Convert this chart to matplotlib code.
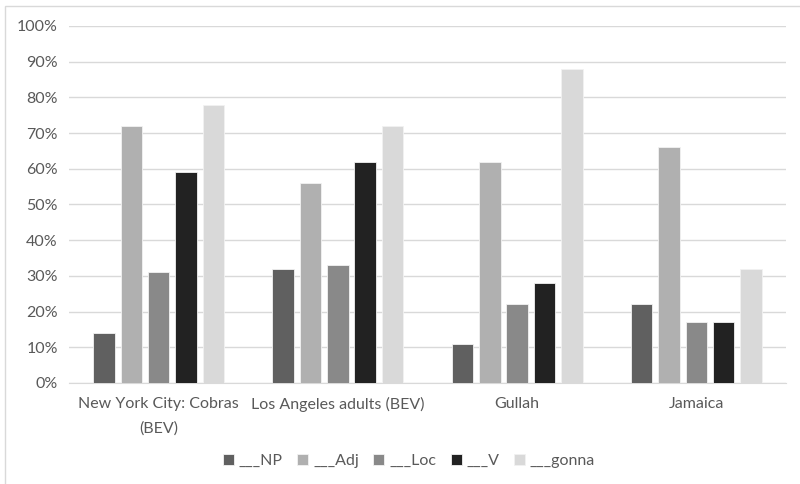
import matplotlib
matplotlib.use("Agg")
import matplotlib.pyplot as plt
import numpy as np
from matplotlib.patches import Rectangle

categories = ["New York City: Cobras\n(BEV)", "Los Angeles adults (BEV)", "Gullah", "Jamaica"]
series_names = ["___NP", "___Adj", "___Loc", "___V", "___gonna"]
np_vals = [14, 32, 11, 22]
adj_vals = [72, 56, 62, 66]
loc_vals = [31, 33, 22, 17]
v_vals = [59, 62, 28, 17]
gonna_vals = [78, 72, 88, 32]
colors = ["#606060", "#b0b0b0", "#898989", "#222222", "#d9d9d9"]

plt.rcParams["font.family"] = ["Lato", "DejaVu Sans"]

fig = plt.figure(figsize=(8, 4.84), dpi=100)
ax = fig.add_axes([69 / 800, 1 - 383 / 484, (786 - 69) / 800, (383 - 26) / 484])

x = np.arange(len(categories))
step = 0.1525
width = 0.12
all_vals = [np_vals, adj_vals, loc_vals, v_vals, gonna_vals]
handles = []
for i, (vals, c) in enumerate(zip(all_vals, colors)):
    bars = ax.bar(x + (i - 2) * step, vals, width, color=c,
                  edgecolor="#f2f2f2", linewidth=0.6, zorder=3)
    handles.append(bars)

ax.set_xlim(-0.5, len(categories) - 0.5)
ax.set_ylim(0, 100)
ax.set_yticks(range(0, 101, 10))
ax.set_yticklabels([f"{v}%" for v in range(0, 101, 10)])
ax.set_xticks(x)
ax.set_xticklabels(categories, linespacing=1.9)
ax.grid(axis="y", color="#d9d9d9", linewidth=1, zorder=0)
for s in ["top", "right", "left"]:
    ax.spines[s].set_visible(False)
ax.spines["bottom"].set_color("#d9d9d9")
ax.tick_params(axis="both", length=0, colors="#595959", labelsize=11.5)
ax.tick_params(axis="x", pad=10)
ax.tick_params(axis="y", pad=8)

leg = ax.legend(handles, series_names, loc="center",
                bbox_to_anchor=(409 / 800, 1 - 461 / 484),
                bbox_transform=fig.transFigure, ncol=5,
                frameon=False, fontsize=11.5, handlelength=0.7, handleheight=0.7,
                handletextpad=0.3, columnspacing=0.9)
for t in leg.get_texts():
    t.set_color("#595959")

border = Rectangle((5 / 800, -0.1), 1.1, 1 - 6 / 484 + 0.1,
                   transform=fig.transFigure, fill=False,
                   edgecolor="#d9d9d9", linewidth=1)
fig.add_artist(border)

fig.savefig("out.png", dpi=100)
